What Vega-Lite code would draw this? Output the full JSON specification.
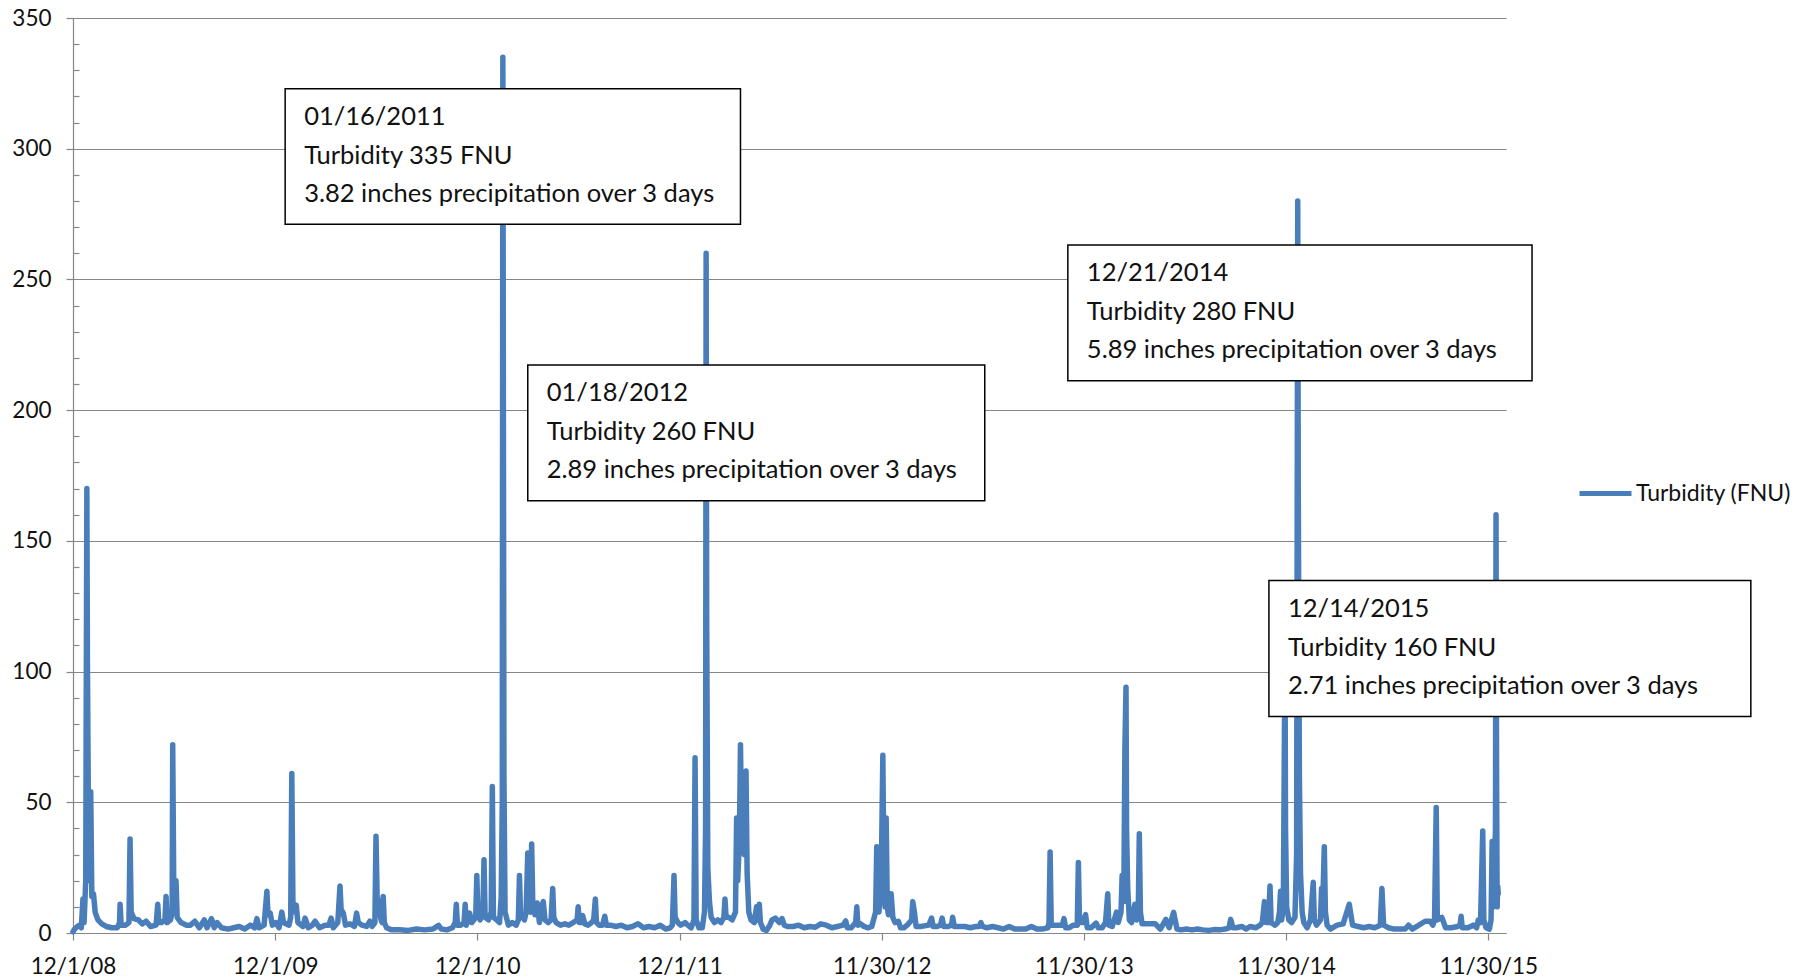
{
  "$schema": "https://vega.github.io/schema/vega-lite/v6.json",
  "width": 1433,
  "height": 915,
  "autosize": {"type": "none"},
  "padding": {"left": 73, "top": 18, "right": 304, "bottom": 46},
  "background": "white",
  "config": {
    "view": {"stroke": null},
    "axis": {"labelFont": "Lato", "labelFontSize": 22.5, "labelColor": "#111111", "domainColor": "#868686", "tickColor": "#868686", "gridColor": "#868686", "domainWidth": 1.2, "tickWidth": 1.2, "gridWidth": 1.2},
    "text": {"font": "Lato"}
  },
  "datasets": {
    "series": [
      {"date":"2008-12-01","turbidity":0.5},{"date":"2008-12-04","turbidity":1.5},{"date":"2008-12-09","turbidity":2.5},{"date":"2008-12-13","turbidity":3},{"date":"2008-12-16","turbidity":2},{"date":"2008-12-19","turbidity":13},{"date":"2008-12-21","turbidity":4},{"date":"2008-12-24","turbidity":20},{"date":"2008-12-26","turbidity":170},{"date":"2008-12-27","turbidity":105},{"date":"2008-12-29","turbidity":40},{"date":"2008-12-31","turbidity":20},
      {"date":"2009-01-02","turbidity":54},{"date":"2009-01-04","turbidity":14},{"date":"2009-01-07","turbidity":15},{"date":"2009-01-10","turbidity":8},{"date":"2009-01-15","turbidity":5},{"date":"2009-01-22","turbidity":3.5},{"date":"2009-01-30","turbidity":2.5},
      {"date":"2009-02-09","turbidity":2},{"date":"2009-02-19","turbidity":2},{"date":"2009-02-23","turbidity":4},{"date":"2009-02-24","turbidity":11},{"date":"2009-02-26","turbidity":3},
      {"date":"2009-03-06","turbidity":3},{"date":"2009-03-12","turbidity":4},{"date":"2009-03-14","turbidity":36},{"date":"2009-03-16","turbidity":8},{"date":"2009-03-21","turbidity":5.5},{"date":"2009-03-29","turbidity":5},
      {"date":"2009-04-05","turbidity":3.5},{"date":"2009-04-12","turbidity":4.5},{"date":"2009-04-20","turbidity":2.5},{"date":"2009-04-30","turbidity":3},
      {"date":"2009-05-03","turbidity":11},{"date":"2009-05-05","turbidity":4},{"date":"2009-05-10","turbidity":4},{"date":"2009-05-16","turbidity":5},{"date":"2009-05-18","turbidity":14},{"date":"2009-05-20","turbidity":4},{"date":"2009-05-26","turbidity":5},{"date":"2009-05-29","turbidity":8},{"date":"2009-05-30","turbidity":72},
      {"date":"2009-06-01","turbidity":15},{"date":"2009-06-05","turbidity":20},{"date":"2009-06-07","turbidity":6},{"date":"2009-06-14","turbidity":4},{"date":"2009-06-24","turbidity":3},
      {"date":"2009-07-01","turbidity":3},{"date":"2009-07-09","turbidity":4.5},{"date":"2009-07-17","turbidity":2},{"date":"2009-07-26","turbidity":5},{"date":"2009-07-31","turbidity":2},
      {"date":"2009-08-08","turbidity":5.5},{"date":"2009-08-13","turbidity":2},{"date":"2009-08-18","turbidity":4},{"date":"2009-08-26","turbidity":2},
      {"date":"2009-09-07","turbidity":1.5},{"date":"2009-09-17","turbidity":2},{"date":"2009-09-27","turbidity":2.5},
      {"date":"2009-10-07","turbidity":1.5},{"date":"2009-10-17","turbidity":3},{"date":"2009-10-25","turbidity":2},{"date":"2009-10-29","turbidity":5.5},
      {"date":"2009-11-02","turbidity":2},{"date":"2009-11-11","turbidity":3},{"date":"2009-11-16","turbidity":16},{"date":"2009-11-18","turbidity":7},{"date":"2009-11-22","turbidity":7.6},{"date":"2009-11-26","turbidity":3},
      {"date":"2009-12-02","turbidity":4},{"date":"2009-12-08","turbidity":2},{"date":"2009-12-13","turbidity":8},{"date":"2009-12-16","turbidity":4},{"date":"2009-12-26","turbidity":3},{"date":"2009-12-29","turbidity":6},{"date":"2009-12-31","turbidity":61},
      {"date":"2010-01-02","turbidity":12},{"date":"2010-01-05","turbidity":8},{"date":"2010-01-08","turbidity":10.6},{"date":"2010-01-11","turbidity":4},{"date":"2010-01-17","turbidity":3},{"date":"2010-01-20","turbidity":2.5},{"date":"2010-01-24","turbidity":5.7},{"date":"2010-01-30","turbidity":2},
      {"date":"2010-02-06","turbidity":3},{"date":"2010-02-11","turbidity":4.5},{"date":"2010-02-19","turbidity":2},
      {"date":"2010-03-01","turbidity":3},{"date":"2010-03-08","turbidity":3},{"date":"2010-03-12","turbidity":5.7},{"date":"2010-03-16","turbidity":2},{"date":"2010-03-24","turbidity":4},{"date":"2010-03-28","turbidity":18},{"date":"2010-03-30","turbidity":9},
      {"date":"2010-04-03","turbidity":7.6},{"date":"2010-04-07","turbidity":3},{"date":"2010-04-15","turbidity":3.5},{"date":"2010-04-23","turbidity":2.5},{"date":"2010-04-27","turbidity":7.6},{"date":"2010-04-30","turbidity":4},
      {"date":"2010-05-07","turbidity":3},{"date":"2010-05-15","turbidity":2.5},{"date":"2010-05-21","turbidity":4.5},{"date":"2010-05-25","turbidity":2.5},{"date":"2010-05-30","turbidity":4},
      {"date":"2010-06-01","turbidity":37},{"date":"2010-06-03","turbidity":14},{"date":"2010-06-07","turbidity":9},{"date":"2010-06-10","turbidity":5},{"date":"2010-06-12","turbidity":4},{"date":"2010-06-14","turbidity":14},{"date":"2010-06-16","turbidity":4},{"date":"2010-06-20","turbidity":2},{"date":"2010-06-29","turbidity":1.2},
      {"date":"2010-07-14","turbidity":1.2},{"date":"2010-07-29","turbidity":1},{"date":"2010-08-13","turbidity":1.5},{"date":"2010-08-28","turbidity":1.2},
      {"date":"2010-09-12","turbidity":1.5},{"date":"2010-09-22","turbidity":2.9},{"date":"2010-09-27","turbidity":1.5},
      {"date":"2010-10-07","turbidity":1.2},{"date":"2010-10-17","turbidity":2},{"date":"2010-10-22","turbidity":4},{"date":"2010-10-24","turbidity":11},{"date":"2010-10-26","turbidity":3},
      {"date":"2010-11-01","turbidity":3},{"date":"2010-11-07","turbidity":4},{"date":"2010-11-09","turbidity":11},{"date":"2010-11-11","turbidity":3},{"date":"2010-11-17","turbidity":7.6},{"date":"2010-11-21","turbidity":4},{"date":"2010-11-28","turbidity":6},{"date":"2010-11-30","turbidity":22},
      {"date":"2010-12-02","turbidity":7},{"date":"2010-12-06","turbidity":5},{"date":"2010-12-11","turbidity":8},{"date":"2010-12-13","turbidity":28},{"date":"2010-12-15","turbidity":6},{"date":"2010-12-21","turbidity":5},{"date":"2010-12-26","turbidity":8},{"date":"2010-12-28","turbidity":56},{"date":"2010-12-30","turbidity":6},
      {"date":"2011-01-05","turbidity":5},{"date":"2011-01-10","turbidity":4},{"date":"2011-01-13","turbidity":13.5},{"date":"2011-01-15","turbidity":50},{"date":"2011-01-16","turbidity":335},{"date":"2011-01-17","turbidity":200},{"date":"2011-01-18","turbidity":60},{"date":"2011-01-20","turbidity":8},{"date":"2011-01-26","turbidity":3},
      {"date":"2011-02-02","turbidity":4},{"date":"2011-02-09","turbidity":3},{"date":"2011-02-13","turbidity":5},{"date":"2011-02-15","turbidity":22},{"date":"2011-02-17","turbidity":7},{"date":"2011-02-24","turbidity":5},{"date":"2011-02-27","turbidity":8},
      {"date":"2011-03-02","turbidity":30.6},{"date":"2011-03-04","turbidity":10},{"date":"2011-03-07","turbidity":8},{"date":"2011-03-09","turbidity":34},{"date":"2011-03-11","turbidity":12},{"date":"2011-03-15","turbidity":7},{"date":"2011-03-19","turbidity":11.5},{"date":"2011-03-23","turbidity":4},{"date":"2011-03-27","turbidity":10},{"date":"2011-03-30","turbidity":12},
      {"date":"2011-04-02","turbidity":5},{"date":"2011-04-08","turbidity":4},{"date":"2011-04-13","turbidity":5},{"date":"2011-04-16","turbidity":17},{"date":"2011-04-18","turbidity":6},{"date":"2011-04-22","turbidity":4},{"date":"2011-04-30","turbidity":3},
      {"date":"2011-05-08","turbidity":3.5},{"date":"2011-05-15","turbidity":3},{"date":"2011-05-23","turbidity":4},{"date":"2011-05-30","turbidity":5},
      {"date":"2011-06-01","turbidity":10},{"date":"2011-06-03","turbidity":4},{"date":"2011-06-07","turbidity":4},{"date":"2011-06-09","turbidity":6.7},{"date":"2011-06-13","turbidity":3.5},{"date":"2011-06-19","turbidity":3},{"date":"2011-06-25","turbidity":4},{"date":"2011-06-29","turbidity":5},
      {"date":"2011-07-02","turbidity":13},{"date":"2011-07-04","turbidity":4},{"date":"2011-07-09","turbidity":3},{"date":"2011-07-15","turbidity":3},{"date":"2011-07-19","turbidity":6.4},{"date":"2011-07-22","turbidity":3},{"date":"2011-07-29","turbidity":3},
      {"date":"2011-08-08","turbidity":2.5},{"date":"2011-08-18","turbidity":3},{"date":"2011-08-28","turbidity":2},
      {"date":"2011-09-07","turbidity":2.5},{"date":"2011-09-17","turbidity":3.5},{"date":"2011-09-27","turbidity":2},
      {"date":"2011-10-07","turbidity":2.5},{"date":"2011-10-17","turbidity":2},{"date":"2011-10-27","turbidity":3},
      {"date":"2011-11-06","turbidity":1.5},{"date":"2011-11-14","turbidity":2},{"date":"2011-11-18","turbidity":3},{"date":"2011-11-21","turbidity":22},{"date":"2011-11-23","turbidity":6},{"date":"2011-11-28","turbidity":4},
      {"date":"2011-12-03","turbidity":3},{"date":"2011-12-11","turbidity":4},{"date":"2011-12-16","turbidity":3},{"date":"2011-12-22","turbidity":2},{"date":"2011-12-27","turbidity":5},{"date":"2011-12-29","turbidity":67},{"date":"2011-12-31","turbidity":5},
      {"date":"2012-01-05","turbidity":2},{"date":"2012-01-11","turbidity":2},{"date":"2012-01-15","turbidity":8},{"date":"2012-01-17","turbidity":40},{"date":"2012-01-18","turbidity":260},{"date":"2012-01-19","turbidity":120},{"date":"2012-01-21","turbidity":25},{"date":"2012-01-24","turbidity":12},{"date":"2012-01-27","turbidity":6},
      {"date":"2012-02-02","turbidity":4},{"date":"2012-02-08","turbidity":5},{"date":"2012-02-14","turbidity":4},{"date":"2012-02-19","turbidity":6},{"date":"2012-02-21","turbidity":13},{"date":"2012-02-23","turbidity":6},{"date":"2012-02-28","turbidity":6},
      {"date":"2012-03-05","turbidity":5},{"date":"2012-03-11","turbidity":8},{"date":"2012-03-13","turbidity":44},{"date":"2012-03-15","turbidity":20},{"date":"2012-03-18","turbidity":35},{"date":"2012-03-20","turbidity":72},{"date":"2012-03-22","turbidity":40},{"date":"2012-03-24","turbidity":61},{"date":"2012-03-27","turbidity":30},{"date":"2012-03-30","turbidity":62},
      {"date":"2012-04-01","turbidity":23},{"date":"2012-04-04","turbidity":8},{"date":"2012-04-08","turbidity":5},{"date":"2012-04-14","turbidity":4},{"date":"2012-04-18","turbidity":10},{"date":"2012-04-20","turbidity":5},{"date":"2012-04-23","turbidity":11},{"date":"2012-04-25","turbidity":4},{"date":"2012-04-30","turbidity":1.5},
      {"date":"2012-05-06","turbidity":1},{"date":"2012-05-12","turbidity":3},{"date":"2012-05-16","turbidity":5},{"date":"2012-05-22","turbidity":5.7},{"date":"2012-05-29","turbidity":4},
      {"date":"2012-06-03","turbidity":5.5},{"date":"2012-06-07","turbidity":3},{"date":"2012-06-13","turbidity":2.5},{"date":"2012-06-23","turbidity":2.5},
      {"date":"2012-07-03","turbidity":3},{"date":"2012-07-13","turbidity":2},{"date":"2012-07-23","turbidity":2.5},
      {"date":"2012-08-02","turbidity":2.2},{"date":"2012-08-12","turbidity":3.5},{"date":"2012-08-22","turbidity":3},
      {"date":"2012-09-01","turbidity":2},{"date":"2012-09-11","turbidity":2.5},{"date":"2012-09-21","turbidity":3},{"date":"2012-09-26","turbidity":4.6},{"date":"2012-09-29","turbidity":2},
      {"date":"2012-10-06","turbidity":2},{"date":"2012-10-14","turbidity":4},{"date":"2012-10-16","turbidity":10},{"date":"2012-10-18","turbidity":3},{"date":"2012-10-23","turbidity":3.5},{"date":"2012-10-29","turbidity":2.5},
      {"date":"2012-11-05","turbidity":2},{"date":"2012-11-12","turbidity":2.5},{"date":"2012-11-19","turbidity":8},{"date":"2012-11-21","turbidity":33},{"date":"2012-11-23","turbidity":12},{"date":"2012-11-25","turbidity":8},{"date":"2012-11-28","turbidity":20},{"date":"2012-11-30","turbidity":35},
      {"date":"2012-12-02","turbidity":68},{"date":"2012-12-04","turbidity":20},{"date":"2012-12-06","turbidity":10},{"date":"2012-12-08","turbidity":44},{"date":"2012-12-10","turbidity":10},{"date":"2012-12-12","turbidity":7},{"date":"2012-12-17","turbidity":15},{"date":"2012-12-20","turbidity":6},{"date":"2012-12-24","turbidity":4},{"date":"2012-12-30","turbidity":4.5},
      {"date":"2013-01-03","turbidity":2},{"date":"2013-01-09","turbidity":2},{"date":"2013-01-15","turbidity":3},{"date":"2013-01-23","turbidity":5},{"date":"2013-01-25","turbidity":12},{"date":"2013-01-28","turbidity":8},{"date":"2013-01-31","turbidity":2.5},
      {"date":"2013-02-08","turbidity":2.5},{"date":"2013-02-23","turbidity":3},{"date":"2013-02-28","turbidity":5.7},
      {"date":"2013-03-03","turbidity":2.5},{"date":"2013-03-10","turbidity":2.5},{"date":"2013-03-16","turbidity":3},{"date":"2013-03-19","turbidity":5.7},{"date":"2013-03-22","turbidity":2.5},{"date":"2013-03-30","turbidity":2.5},
      {"date":"2013-04-05","turbidity":3},{"date":"2013-04-07","turbidity":6},{"date":"2013-04-10","turbidity":2.5},{"date":"2013-04-19","turbidity":2.5},{"date":"2013-04-29","turbidity":2.5},
      {"date":"2013-05-09","turbidity":2},{"date":"2013-05-19","turbidity":2.5},{"date":"2013-05-25","turbidity":2.5},{"date":"2013-05-28","turbidity":4},{"date":"2013-05-31","turbidity":2.5},
      {"date":"2013-06-08","turbidity":2},{"date":"2013-06-18","turbidity":2.5},{"date":"2013-06-28","turbidity":2},
      {"date":"2013-07-08","turbidity":1.5},{"date":"2013-07-18","turbidity":2.5},{"date":"2013-07-28","turbidity":1.5},
      {"date":"2013-08-07","turbidity":1.5},{"date":"2013-08-17","turbidity":1.5},{"date":"2013-08-27","turbidity":2.5},
      {"date":"2013-09-06","turbidity":1.5},{"date":"2013-09-16","turbidity":1.5},{"date":"2013-09-26","turbidity":2},{"date":"2013-09-28","turbidity":4},{"date":"2013-09-30","turbidity":31},
      {"date":"2013-10-02","turbidity":3},{"date":"2013-10-08","turbidity":3},{"date":"2013-10-16","turbidity":3},{"date":"2013-10-22","turbidity":3},{"date":"2013-10-25","turbidity":5.5},{"date":"2013-10-28","turbidity":2},
      {"date":"2013-11-03","turbidity":2},{"date":"2013-11-11","turbidity":3},{"date":"2013-11-18","turbidity":3},{"date":"2013-11-20","turbidity":27},{"date":"2013-11-22","turbidity":4},{"date":"2013-11-25","turbidity":4},{"date":"2013-11-28","turbidity":4},
      {"date":"2013-12-03","turbidity":7},{"date":"2013-12-06","turbidity":2},{"date":"2013-12-13","turbidity":2},{"date":"2013-12-22","turbidity":3.8},{"date":"2013-12-26","turbidity":2},
      {"date":"2014-01-02","turbidity":2},{"date":"2014-01-08","turbidity":4},{"date":"2014-01-12","turbidity":15},{"date":"2014-01-14","turbidity":3},{"date":"2014-01-20","turbidity":2.5},{"date":"2014-01-28","turbidity":8},{"date":"2014-01-31","turbidity":4},
      {"date":"2014-02-05","turbidity":8},{"date":"2014-02-07","turbidity":22},{"date":"2014-02-10","turbidity":12},{"date":"2014-02-12","turbidity":71},{"date":"2014-02-14","turbidity":94},{"date":"2014-02-15","turbidity":40},{"date":"2014-02-17","turbidity":17.6},{"date":"2014-02-20","turbidity":5},{"date":"2014-02-24","turbidity":4},
      {"date":"2014-03-02","turbidity":11},{"date":"2014-03-05","turbidity":5},{"date":"2014-03-08","turbidity":6},{"date":"2014-03-10","turbidity":38},{"date":"2014-03-12","turbidity":8},{"date":"2014-03-15","turbidity":3.5},{"date":"2014-03-24","turbidity":3.5},
      {"date":"2014-04-08","turbidity":3.5},{"date":"2014-04-17","turbidity":1.5},{"date":"2014-04-27","turbidity":5.2},
      {"date":"2014-05-03","turbidity":2},{"date":"2014-05-11","turbidity":7.9},{"date":"2014-05-17","turbidity":1.5},{"date":"2014-05-24","turbidity":1.2},
      {"date":"2014-06-03","turbidity":1.5},{"date":"2014-06-13","turbidity":1.2},{"date":"2014-06-23","turbidity":1.5},
      {"date":"2014-07-03","turbidity":1.2},{"date":"2014-07-13","turbidity":1},{"date":"2014-07-23","turbidity":1.3},
      {"date":"2014-08-02","turbidity":1.2},{"date":"2014-08-12","turbidity":1.5},{"date":"2014-08-19","turbidity":2},{"date":"2014-08-22","turbidity":5.2},{"date":"2014-08-26","turbidity":2},
      {"date":"2014-09-01","turbidity":2},{"date":"2014-09-11","turbidity":2.5},{"date":"2014-09-19","turbidity":1.5},{"date":"2014-09-26","turbidity":2.5},
      {"date":"2014-10-06","turbidity":2},{"date":"2014-10-14","turbidity":3},{"date":"2014-10-18","turbidity":4},{"date":"2014-10-22","turbidity":12},{"date":"2014-10-25","turbidity":4},{"date":"2014-10-29","turbidity":4},
      {"date":"2014-11-01","turbidity":18},{"date":"2014-11-03","turbidity":4},{"date":"2014-11-10","turbidity":3},{"date":"2014-11-15","turbidity":4},{"date":"2014-11-18","turbidity":8},{"date":"2014-11-20","turbidity":16},{"date":"2014-11-22","turbidity":5},{"date":"2014-11-25","turbidity":10},{"date":"2014-11-28","turbidity":110},{"date":"2014-11-29","turbidity":40},
      {"date":"2014-12-01","turbidity":10},{"date":"2014-12-05","turbidity":5},{"date":"2014-12-10","turbidity":4},{"date":"2014-12-16","turbidity":6},{"date":"2014-12-19","turbidity":30},{"date":"2014-12-21","turbidity":280},{"date":"2014-12-22","turbidity":170},{"date":"2014-12-24","turbidity":60},{"date":"2014-12-26","turbidity":23},{"date":"2014-12-29","turbidity":8},
      {"date":"2015-01-01","turbidity":4},{"date":"2015-01-07","turbidity":2},{"date":"2015-01-13","turbidity":5},{"date":"2015-01-18","turbidity":19.4},{"date":"2015-01-20","turbidity":5},{"date":"2015-01-24","turbidity":3},{"date":"2015-01-31","turbidity":5},
      {"date":"2015-02-02","turbidity":17},{"date":"2015-02-04","turbidity":10},{"date":"2015-02-07","turbidity":33},{"date":"2015-02-09","turbidity":8},{"date":"2015-02-12","turbidity":3},{"date":"2015-02-18","turbidity":1.5},
      {"date":"2015-03-02","turbidity":3},{"date":"2015-03-13","turbidity":3.5},{"date":"2015-03-24","turbidity":11},{"date":"2015-03-30","turbidity":3},
      {"date":"2015-04-09","turbidity":2.5},{"date":"2015-04-19","turbidity":2},{"date":"2015-04-29","turbidity":2.5},
      {"date":"2015-05-09","turbidity":2},{"date":"2015-05-19","turbidity":3},{"date":"2015-05-22","turbidity":17},{"date":"2015-05-25","turbidity":3},
      {"date":"2015-06-03","turbidity":2},{"date":"2015-06-13","turbidity":1.5},{"date":"2015-06-23","turbidity":1.5},
      {"date":"2015-07-03","turbidity":1.5},{"date":"2015-07-09","turbidity":3},{"date":"2015-07-16","turbidity":1.5},
      {"date":"2015-08-08","turbidity":4.5},{"date":"2015-08-17","turbidity":4.5},{"date":"2015-08-22","turbidity":3},{"date":"2015-08-25","turbidity":5},{"date":"2015-08-28","turbidity":48},{"date":"2015-08-30","turbidity":5},
      {"date":"2015-09-07","turbidity":6},{"date":"2015-09-14","turbidity":2},{"date":"2015-09-24","turbidity":2},
      {"date":"2015-10-06","turbidity":2.5},{"date":"2015-10-10","turbidity":3},{"date":"2015-10-12","turbidity":6.4},{"date":"2015-10-14","turbidity":2},{"date":"2015-10-24","turbidity":2},
      {"date":"2015-11-03","turbidity":3},{"date":"2015-11-09","turbidity":2},{"date":"2015-11-12","turbidity":5},{"date":"2015-11-16","turbidity":4},{"date":"2015-11-20","turbidity":39},{"date":"2015-11-22","turbidity":5},{"date":"2015-11-26","turbidity":2},
      {"date":"2015-12-02","turbidity":1.5},{"date":"2015-12-05","turbidity":5},{"date":"2015-12-07","turbidity":35},{"date":"2015-12-09","turbidity":10},{"date":"2015-12-11","turbidity":20},{"date":"2015-12-13","turbidity":40},{"date":"2015-12-14","turbidity":160},{"date":"2015-12-15","turbidity":60},{"date":"2015-12-16","turbidity":10},{"date":"2015-12-17","turbidity":18},{"date":"2015-12-18","turbidity":15}
    ],
    "boxes": [
      {"x1":"2009-12-19","x2":"2012-03-20","y1":322.9,"y2":271.1,"lines":["01/16/2011","Turbidity 335 FNU","3.82 inches precipitation over 3 days"]},
      {"x1":"2011-03-02","x2":"2013-06-04","y1":217.3,"y2":165.3,"lines":["01/18/2012","Turbidity 260 FNU","2.89 inches precipitation over 3 days"]},
      {"x1":"2013-11-01","x2":"2016-02-17","y1":263.2,"y2":211.2,"lines":["12/21/2014","Turbidity 280 FNU","5.89 inches precipitation over 3 days"]},
      {"x1":"2014-10-30","x2":"2017-03-18","y1":134.8,"y2":82.8,"lines":["12/14/2015","Turbidity 160 FNU","2.71 inches precipitation over 3 days"]}
    ]
  },
  "resolve": {"axis": {"y": "independent"}},
  "layer": [
    {
      "data": {"name": "series"},
      "mark": {"type": "line", "strokeWidth": 5.5, "strokeJoin": "round", "strokeCap": "round"},
      "encoding": {
        "x": {"field": "date", "type": "temporal",
          "scale": {"type": "utc", "domain": [{"year": 2008, "month": 12, "date": 1, "utc": true}, {"year": 2016, "month": 1, "date": 1, "utc": true}]},
          "axis": {"title": null, "grid": false, "tickSize": 7, "labelPadding": 15, "labelFlush": false, "labelOverlap": false, "format": "%-m/%-d/%y",
            "values": [{"year": 2008, "month": 12, "date": 1, "utc": true}, {"year": 2009, "month": 12, "date": 1, "utc": true}, {"year": 2010, "month": 12, "date": 1, "utc": true}, {"year": 2011, "month": 12, "date": 1, "utc": true}, {"year": 2012, "month": 11, "date": 30, "utc": true}, {"year": 2013, "month": 11, "date": 30, "utc": true}, {"year": 2014, "month": 11, "date": 30, "utc": true}, {"year": 2015, "month": 11, "date": 30, "utc": true}]}},
        "y": {"field": "turbidity", "type": "quantitative",
          "scale": {"domain": [0, 350], "nice": false, "zero": true},
          "axis": {"title": null, "orient": "left", "values": [0, 50, 100, 150, 200, 250, 300, 350], "grid": true, "tickSize": 7, "labelPadding": 15}},
        "color": {"datum": "Turbidity (FNU)", "type": "nominal", "scale": {"range": ["#4A7EBB"]},
          "legend": {"orient": "none", "legendX": 1504, "legendY": 447, "title": null, "symbolType": "stroke", "symbolStrokeWidth": 5, "symbolSize": 2704, "labelFont": "Lato", "labelFontSize": 23, "labelColor": "#111111", "labelOffset": 2, "padding": 0}}
      }
    },
    {
      "data": {"name": "boxes"},
      "mark": {"type": "rect", "fill": "white", "stroke": "black", "strokeWidth": 1.5},
      "encoding": {
        "x": {"field": "x1", "type": "temporal", "axis": {"title": null}},
        "x2": {"field": "x2"},
        "y": {"field": "y1", "type": "quantitative",
          "axis": {"title": null, "orient": "left", "values": [10, 20, 30, 40, 60, 70, 80, 90, 110, 120, 130, 140, 160, 170, 180, 190, 210, 220, 230, 240, 260, 270, 280, 290, 310, 320, 330, 340], "tickSize": -6, "labels": false, "domain": false, "grid": false}},
        "y2": {"field": "y2"}
      }
    },
    {
      "data": {"name": "boxes"},
      "mark": {"type": "text", "align": "left", "baseline": "alphabetic", "dx": 19, "dy": 36.5, "fontSize": 25.5, "lineHeight": 38.5, "color": "#111111"},
      "encoding": {
        "x": {"field": "x1", "type": "temporal", "axis": {"title": null}},
        "y": {"field": "y1", "type": "quantitative", "axis": null},
        "text": {"field": "lines"}
      }
    }
  ]
}
